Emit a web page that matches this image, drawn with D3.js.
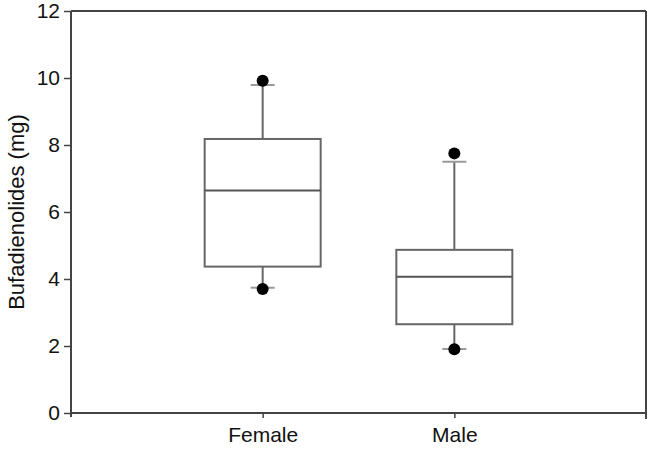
<!DOCTYPE html>
<html><head><meta charset="utf-8">
<script src="https://cdn.jsdelivr.net/npm/d3@7"></script>
<style>body{margin:0;background:#fff}svg{display:block}text{font-family:"Liberation Sans",Arial,sans-serif}</style>
</head><body>
<svg id="c" width="652" height="450"></svg>
<script>
const categories = ["Female", "Male"];
const q1 = [4.37, 2.65];
const median = [6.64, 4.07];
const q3 = [8.18, 4.87];
const whiskerLow = [3.74, 1.91];
const whiskerHigh = [9.79, 7.50];
const outlierLow = [3.70, 1.90];
const outlierHigh = [9.92, 7.75];
const yTicks = [0, 2, 4, 6, 8, 10, 12];

(function () {
const svg = d3.select("#c");
const pL = 71, pR = 646, pT = 11, pB = 413;
const y = d3.scaleLinear().domain([0, 12]).range([pB, pT]);
const x = d3.scalePoint().domain(categories).range([pL, pR]).padding(1);
const axisColor = "#444", boxColor = "#666", capColor = "#999";
const fs = 21;

svg.append("line").attr("x1", pL).attr("x2", pR).attr("y1", pT).attr("y2", pT)
  .attr("stroke", axisColor).attr("stroke-width", 2);
svg.append("line").attr("x1", pR).attr("x2", pR).attr("y1", pT).attr("y2", pB + 6)
  .attr("stroke", axisColor).attr("stroke-width", 2);

const ya = svg.append("g").attr("transform", `translate(${pL},0)`)
  .call(d3.axisLeft(y).tickValues(yTicks).tickSize(7).tickPadding(4).tickFormat(d3.format("d")));
ya.select(".domain").attr("stroke", axisColor).attr("stroke-width", 2).attr("d", `M0,${pT}V${pB + 4}`);
ya.selectAll(".tick line").attr("stroke", axisColor).attr("stroke-width", 1.5);
ya.selectAll(".tick text").attr("font-size", fs).attr("fill", "#111")
  .attr("font-family", '"Liberation Sans",Arial,sans-serif');

const xa = svg.append("g").attr("transform", `translate(0,${pB})`)
  .call(d3.axisBottom(x).tickSize(5).tickPadding(9));
xa.select(".domain").attr("stroke", axisColor).attr("stroke-width", 2).attr("d", `M${pL},0H${pR}`);
xa.selectAll(".tick line").attr("stroke", axisColor).attr("stroke-width", 1.5);
xa.selectAll(".tick text").attr("font-size", fs).attr("fill", "#111")
  .attr("font-family", '"Liberation Sans",Arial,sans-serif');

svg.append("text").attr("transform", `translate(24,212) rotate(-90)`)
  .attr("text-anchor", "middle").attr("font-size", 22).attr("fill", "#111")
  .text("Bufadienolides (mg)");

const bw = 116, cw = 24;
const data = categories.map((c, i) => ({c, q1: q1[i], med: median[i], q3: q3[i], lo: whiskerLow[i], hi: whiskerHigh[i], olo: outlierLow[i], ohi: outlierHigh[i]}));
const g = svg.selectAll("g.box").data(data).join("g").attr("class", "box");
g.append("line").attr("x1", d => x(d.c)).attr("x2", d => x(d.c)).attr("y1", d => y(d.q3)).attr("y2", d => y(d.hi))
  .attr("stroke", boxColor).attr("stroke-width", 2);
g.append("line").attr("x1", d => x(d.c)).attr("x2", d => x(d.c)).attr("y1", d => y(d.q1)).attr("y2", d => y(d.lo))
  .attr("stroke", boxColor).attr("stroke-width", 2);
["hi", "lo"].forEach(k => {
  g.append("line").attr("x1", d => x(d.c) - cw / 2).attr("x2", d => x(d.c) + cw / 2)
    .attr("y1", d => y(d[k])).attr("y2", d => y(d[k])).attr("stroke", capColor).attr("stroke-width", 2);
});
g.append("rect").attr("x", d => x(d.c) - bw / 2).attr("width", bw)
  .attr("y", d => y(d.q3)).attr("height", d => y(d.q1) - y(d.q3))
  .attr("fill", "none").attr("stroke", boxColor).attr("stroke-width", 2);
g.append("line").attr("x1", d => x(d.c) - bw / 2).attr("x2", d => x(d.c) + bw / 2)
  .attr("y1", d => y(d.med)).attr("y2", d => y(d.med)).attr("stroke", "#555").attr("stroke-width", 2);
["ohi", "olo"].forEach(k => {
  g.append("circle").attr("cx", d => x(d.c)).attr("cy", d => y(d[k])).attr("r", 6).attr("fill", "#000");
});
})();
</script>
</body></html>
